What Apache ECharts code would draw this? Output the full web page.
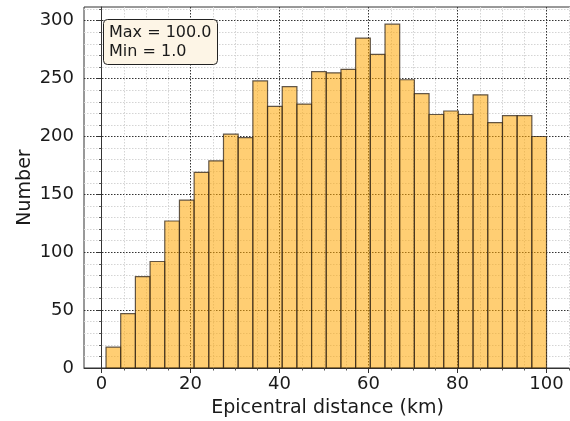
<!DOCTYPE html>
<html>
<head>
<meta charset="utf-8">
<script src="https://cdn.jsdelivr.net/npm/echarts@6/dist/echarts.min.js"></script>
<style>
html,body{margin:0;padding:0;background:#fff;}
#chart{width:570px;height:421px;}
</style>
</head>
<body>
<div id="chart"></div>
<script>
// Histogram bin edges (km)
const binEdges = [1, 4.3, 7.6, 10.9, 14.2, 17.5, 20.8, 24.1, 27.4, 30.7, 34, 37.3, 40.6, 43.9, 47.2, 50.5, 53.8, 57.1, 60.4, 63.7, 67, 70.3, 73.6, 76.9, 80.2, 83.5, 86.8, 90.1, 93.4, 96.7, 100];
// Counts per bin
const counts = [18, 47, 79, 92, 127, 145, 169, 179, 202, 199, 248, 226, 243, 228, 256, 255, 258, 285, 271, 297, 249, 237, 219, 222, 219, 236, 212, 218, 218, 200];
const xTickValues = [0, 20, 40, 60, 80, 100];
const yTickValues = [0, 50, 100, 150, 200, 250, 300];
const xLabel = 'Epicentral distance (km)';
const yLabel = 'Number';
const statsText = 'Max = 100.0\nMin = 1.0';

const histData = counts.map((c, i) => [binEdges[i], binEdges[i + 1], c]);

const FONT = 'DejaVu Sans';
const chart = echarts.init(document.getElementById('chart'), null, {renderer: 'canvas'});
chart.setOption({
  animation: false,
  backgroundColor: '#fff',
  textStyle: {fontFamily: FONT},
  title: {
    text: statsText,
    left: 103, top: 19,
    padding: [4, 6, 4, 6],
    backgroundColor: '#fdf5e6',
    borderColor: '#222',
    borderWidth: 1,
    borderRadius: 4,
    textStyle: {fontFamily: FONT, fontSize: 16, fontWeight: 'normal', color: '#1a1a1a', lineHeight: 19}
  },
  grid: {left: 84, right: -1, top: 7, bottom: 53, outerBoundsMode: 'none', containLabel: false, show: true, borderColor: '#333', borderWidth: 1, backgroundColor: 'transparent'},
  xAxis: {
    type: 'value',
    min: -3.95, max: 105.5,
    name: xLabel,
    nameLocation: 'middle',
    nameGap: 31,
    nameMoveOverlap: false,
    nameTextStyle: {fontFamily: FONT, fontSize: 19, color: '#1a1a1a'},
    axisLine: {show: true, onZero: false, lineStyle: {color: '#333', width: 1}},
    axisTick: {show: true, length: 5, customValues: xTickValues, lineStyle: {color: '#333'}},
    minorTick: {show: true, splitNumber: 4, length: 2.5, lineStyle: {color: '#555'}},
    axisLabel: {customValues: xTickValues, fontFamily: FONT, fontSize: 18, color: '#1a1a1a', margin: 7},
    splitLine: {show: true, lineStyle: {color: '#333', type: [1.5, 1.5], width: 1}},
    minorSplitLine: {show: true, lineStyle: {color: '#d4d4d4', type: [1.5, 1.5], width: 1}}
  },
  yAxis: {
    type: 'value',
    min: 0, max: 311.85,
    interval: 50,
    name: yLabel,
    nameLocation: 'middle',
    nameGap: 49,
    nameMoveOverlap: false,
    nameTextStyle: {fontFamily: FONT, fontSize: 19, color: '#1a1a1a'},
    axisLine: {show: true, lineStyle: {color: '#333', width: 1}},
    axisTick: {show: true, length: 5, customValues: yTickValues, lineStyle: {color: '#333'}},
    minorTick: {show: true, splitNumber: 5, length: 2.5, lineStyle: {color: '#555'}},
    axisLabel: {customValues: yTickValues, fontFamily: FONT, fontSize: 18, color: '#1a1a1a', margin: 10},
    splitLine: {show: true, lineStyle: {color: '#333', type: [1.5, 1.5], width: 1}},
    minorSplitLine: {show: true, lineStyle: {color: '#d4d4d4', type: [1.5, 1.5], width: 1}}
  },
  series: [{
    type: 'custom',
    data: histData,
    encode: {x: [0, 1], y: 2},
    renderItem: function (params, api) {
      const p0 = api.coord([api.value(0), 0]);
      const p1 = api.coord([api.value(1), api.value(2)]);
      return {
        type: 'rect',
        shape: {x: p0[0], y: p1[1], width: p1[0] - p0[0], height: p0[1] - p1[1]},
        style: {fill: 'rgba(255,165,0,0.55)', stroke: 'rgba(45,35,25,0.75)', lineWidth: 1.2}
      };
    }
  }]
});
</script>
</body>
</html>
